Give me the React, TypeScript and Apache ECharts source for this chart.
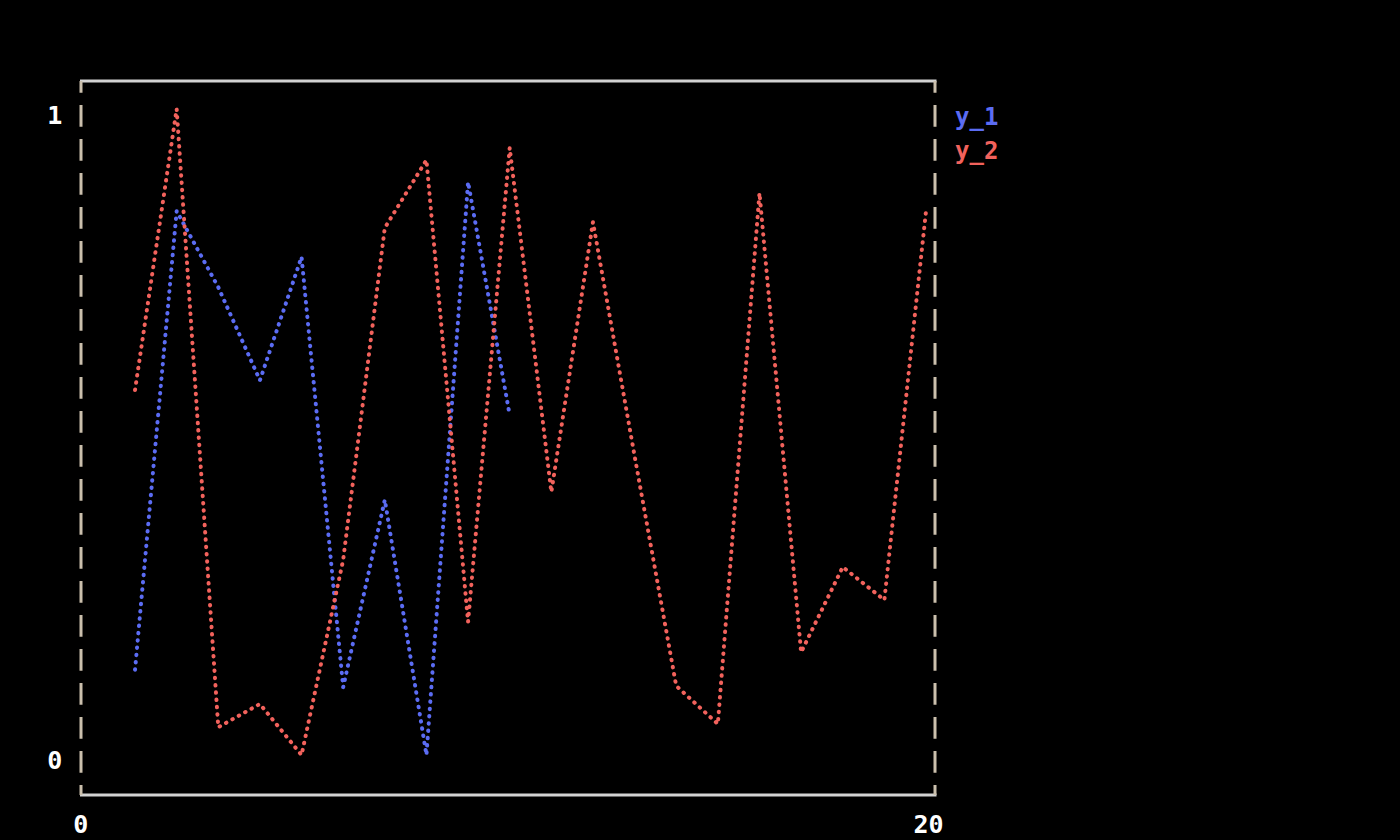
import React, { useEffect, useRef } from "react";
import * as echarts from "echarts";

const xValues = [1, 2, 3, 4, 5, 6, 7, 8, 9, 10, 11, 12, 13, 14, 15, 16, 17, 18, 19, 20];
const y1Values = [0.132, 0.842, 0.724, 0.58, 0.771, 0.105, 0.395, 0.0, 0.887, 0.526];
const y2Values = [
  0.565, 1.0, 0.043, 0.079, 0.0, 0.302, 0.816, 0.921, 0.206, 0.94,
  0.407, 0.825, 0.463, 0.107, 0.048, 0.87, 0.159, 0.291, 0.24, 0.842,
];
const xTickLabels = [0, 20];
const yTickLabels = [0, 1];
const seriesNames = ["y_1", "y_2"];

const BLUE = "#5b6cf3";
const RED = "#f2625c";
const FONT = "'DejaVu Sans Mono', monospace";

export default function App() {
  const ref = useRef<HTMLDivElement>(null);

  useEffect(() => {
    if (!ref.current) return;
    const chart = echarts.init(ref.current, null, { renderer: "svg" });

    const dotted = (color: string) => ({
      color,
      width: 4,
      type: [0.5, 6.8] as any,
      cap: "round" as const,
    });

    const labelBase = {
      color: "#ffffff",
      fontFamily: FONT,
      fontWeight: "bold" as const,
      fontSize: 25,
      lineHeight: 24,
    };

    const option: any = {
      animation: false,
      backgroundColor: "#000000",
      grid: { left: 93.4, right: 1400 - 926, top: 109, bottom: 840 - 755, containLabel: false },
      xAxis: {
        type: "value",
        min: 0,
        max: 20,
        axisLine: { show: false },
        axisTick: { show: false },
        splitLine: { show: false },
        axisLabel: {
          ...labelBase,
          customValues: xTickLabels,
          margin: 57,
          formatter: (v: number) => (v === 0 ? "{a|0}" : "{b|" + v + "}"),
          rich: {
            a: { ...labelBase, padding: [0, 25, 0, 0] },
            b: { ...labelBase, padding: [0, 0, 0, 5] },
          },
        },
      },
      yAxis: {
        type: "value",
        min: 0,
        max: 1,
        axisLine: { show: false },
        axisTick: { show: false },
        splitLine: { show: false },
        axisLabel: {
          ...labelBase,
          customValues: yTickLabels,
          margin: 31,
          formatter: (v: number) => (v === 1 ? "{a|1}" : "{b|0}"),
          rich: {
            a: { ...labelBase, padding: [12, 0, 0, 0] },
            b: { ...labelBase, padding: [10, 0, 0, 0] },
          },
        },
      },
      legend: {
        show: true,
        orient: "vertical",
        left: 945,
        top: 100,
        itemWidth: 0,
        itemHeight: 0,
        itemGap: 10,
        selectedMode: false,
        icon: "rect",
        textStyle: {
          fontFamily: FONT,
          fontWeight: "bold",
          fontSize: 24,
          lineHeight: 24,
        },
        data: [
          { name: seriesNames[0], textStyle: { color: BLUE } },
          { name: seriesNames[1], textStyle: { color: RED } },
        ],
      },
      graphic: [
        {
          type: "line",
          shape: { x1: 80, y1: 81, x2: 936.5, y2: 81 },
          style: { stroke: "#d2d2d2", lineWidth: 3 },
        },
        {
          type: "line",
          shape: { x1: 80, y1: 795, x2: 936.5, y2: 795 },
          style: { stroke: "#d2d2d2", lineWidth: 3 },
        },
        {
          type: "line",
          shape: { x1: 81, y1: 81, x2: 81, y2: 795 },
          style: { stroke: "#cbc0ad", lineWidth: 3, lineDash: [21.7, 12.3], lineDashOffset: 10 },
        },
        {
          type: "line",
          shape: { x1: 935, y1: 81, x2: 935, y2: 795 },
          style: { stroke: "#cbc0ad", lineWidth: 3, lineDash: [21.7, 12.3], lineDashOffset: 10 },
        },
      ],
      series: [
        {
          name: seriesNames[0],
          type: "line",
          color: BLUE,
          showSymbol: false,
          data: y1Values.map((v, i) => [xValues[i], v]),
          lineStyle: dotted(BLUE),
        },
        {
          name: seriesNames[1],
          type: "line",
          color: RED,
          showSymbol: false,
          data: y2Values.map((v, i) => [xValues[i], v]),
          lineStyle: dotted(RED),
        },
      ],
    };

    chart.setOption(option);
    return () => chart.dispose();
  }, []);

  return (
    <div
      ref={ref}
      style={{ position: "fixed", left: 0, top: 0, width: 1400, height: 840, background: "#000" }}
    />
  );
}
